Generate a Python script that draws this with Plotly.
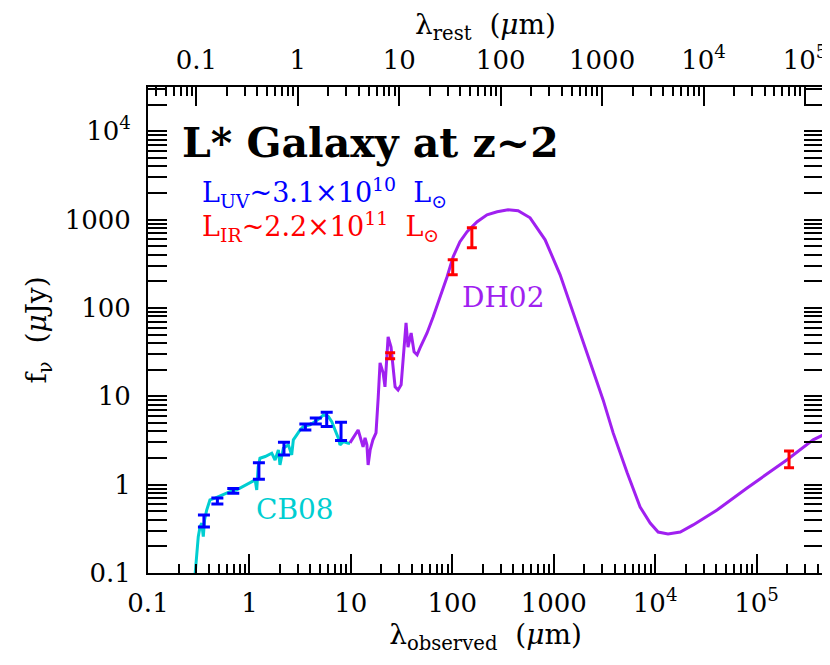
import numpy as np
import plotly.graph_objects as go

# redshift of the galaxy (rest-frame axis on top)
z = 2.0

# CB08 stellar population model (observed wavelength in micron, flux in uJy)
cb08_wave = [0.291, 0.302, 0.313, 0.326, 0.339, 0.351, 0.361, 0.379, 0.408, 0.458, 0.533,
             0.644, 0.750, 0.871, 1.01, 1.14, 1.18, 1.22, 1.27, 1.43, 1.66, 1.79, 1.93,
             2.00, 2.16, 2.42, 2.61, 2.71, 2.93, 3.16, 3.40, 3.96, 4.44, 4.97, 5.36, 6.00,
             6.48, 6.98, 7.53, 7.82, 8.43, 9.44, 9.8]
cb08_flux = [0.095, 0.182, 0.258, 0.334, 0.366, 0.258, 0.398, 0.516, 0.671, 0.702, 0.764,
             0.834, 0.871, 0.949, 1.04, 1.13, 0.871, 1.60, 1.99, 2.08, 2.27, 1.90, 2.47,
             1.67, 2.58, 2.82, 2.17, 3.21, 3.66, 4.16, 4.54, 4.74, 5.17, 5.65, 6.15, 5.89,
             5.17, 4.16, 3.35, 2.82, 3.07, 2.94, 2.94]

# DH02 dust model
dh02_wave = [9.8, 10.8, 11.8, 12.6, 13.2, 13.8, 14.4, 14.8, 15.5, 16.5, 17.7, 18.6, 19.4,
             20.8, 21.7, 23.3, 24.9, 27.3, 29.2, 31.3, 35.0, 36.6, 39.3, 42.0, 45.0, 48.1,
             56.4, 64.7, 75.9, 88.9, 102, 119, 140, 176, 220, 277, 355, 446, 585, 823,
             1157, 1626, 2286, 3070, 3855, 5300, 7110, 8930, 10700, 13400, 17700, 23700,
             40800, 80700, 200000, 361000, 497000]
dh02_flux = [2.97, 3.56, 4.16, 3.21, 2.67, 3.38, 2.82, 1.67, 2.47, 3.21, 3.85, 9.6, 23.9,
             18.4, 12.8, 47, 36, 12.8, 11.8, 13.5, 67.8, 36, 52, 31.8, 29.4, 35.3,
             52, 79, 134, 225, 379, 561, 728, 944, 1133, 1225, 1290, 1258, 1046, 590,
             237, 77, 24.5, 9.1, 3.85, 1.36, 0.558, 0.368, 0.291, 0.277, 0.291, 0.350,
             0.516, 0.918, 1.91, 3.21, 3.85]

# UV/optical/near-IR photometry
uv_wave = [0.356, 0.483, 0.693, 1.24, 2.19, 3.56, 4.51, 5.78, 8.0]
uv_flux = [0.388, 0.653, 0.849, 1.43, 2.56, 4.50, 5.26, 5.47, 4.0]
uv_lo = [0.332, 0.604, 0.797, 1.15, 2.17, 4.16, 4.87, 4.54, 3.15]
uv_hi = [0.454, 0.706, 0.906, 1.77, 3.02, 4.87, 5.69, 6.61, 5.09]

# far-IR / radio photometry
ir_wave = [24.4, 101, 156, 209000]
ir_flux = [28.7, 288, 622, 1.95]
ir_lo = [26.5, 237, 480, 1.55]
ir_hi = [31, 350, 807, 2.41]

# tick labels
x_ticks = [0.1, 1, 10, 100, 1000, 1e4, 1e5]
x_ticktext = ["0.1", "1", "10", "100", "1000", "10<sup>4</sup>", "10<sup>5</sup>"]
y_ticks = [0.1, 1, 10, 100, 1000, 1e4]
y_ticktext = ["0.1", "1", "10", "100", "1000", "10<sup>4</sup>"]

FONT = "DejaVu Serif"
PURPLE = "#A020F0"
CYAN = "#00CED1"

fig = go.Figure()

fig.add_trace(go.Scatter(x=cb08_wave, y=cb08_flux, mode="lines",
                         line=dict(color=CYAN, width=3)))
fig.add_trace(go.Scatter(x=dh02_wave, y=dh02_flux, mode="lines",
                         line=dict(color=PURPLE, width=3)))

uv_f = np.array(uv_flux)
fig.add_trace(go.Scatter(x=uv_wave, y=uv_flux, mode="markers",
                         marker=dict(size=2, color="blue"),
                         error_y=dict(type="data", symmetric=False,
                                      array=np.array(uv_hi) - uv_f,
                                      arrayminus=uv_f - np.array(uv_lo),
                                      color="blue", thickness=3, width=6)))
ir_f = np.array(ir_flux)
fig.add_trace(go.Scatter(x=ir_wave, y=ir_flux, mode="markers",
                         marker=dict(size=2, color="red"),
                         error_y=dict(type="data", symmetric=False,
                                      array=np.array(ir_hi) - ir_f,
                                      arrayminus=ir_f - np.array(ir_lo),
                                      color="red", thickness=3, width=5)))

# invisible trace so the rest-frame axis gets drawn
fig.add_trace(go.Scatter(x=[dh02_wave[0] / (1 + z), dh02_wave[-1] / (1 + z)],
                         y=[dh02_flux[0], dh02_flux[-1]], xaxis="x2",
                         mode="lines", line=dict(width=0), hoverinfo="skip"))

minor_x = [k * 10.0 ** n for n in range(-2, 7) for k in range(2, 10)]
minor_y = [k * 10.0 ** n for n in range(-2, 5) for k in range(2, 10)]

axis_style = dict(type="log", showgrid=False, zeroline=False, showline=True,
                  linecolor="black", linewidth=2, ticks="inside", ticklen=19,
                  tickwidth=1.5, tickcolor="black", automargin=False,
                  tickfont=dict(family=FONT, size=26, color="black"))
minor_style = dict(tickmode="array", ticks="inside", ticklen=9, tickwidth=1.5,
                   tickcolor="black")

# the page body adds an 8px offset, so the figure is 8px smaller than the window
x_range = [-1, 5.655]
fig.update_layout(
    width=822, height=657,
    margin=dict(l=140, r=7, t=79, b=92),
    paper_bgcolor="white", plot_bgcolor="white",
    showlegend=False,
    font=dict(family=FONT, color="black"),
    xaxis=dict(axis_style, range=x_range, tickmode="array", tickvals=x_ticks,
               ticktext=x_ticktext, ticklabelstandoff=6,
               minor=dict(minor_style, tickvals=minor_x),
               title=dict(text="λ<sub>observed</sub>\u00a0\u00a0(<i>μ</i>m)",
                          font=dict(family=FONT, size=28), standoff=4)),
    xaxis2=dict(axis_style, overlaying="x", side="top", anchor="y",
                range=[x_range[0] - np.log10(1 + z), x_range[1] - np.log10(1 + z)],
                tickmode="array", tickvals=x_ticks, ticktext=x_ticktext,
                ticklabelstandoff=6,
                minor=dict(minor_style, tickvals=minor_x),
                title=dict(text="λ<sub>rest</sub>\u00a0\u00a0(<i>μ</i>m)",
                           font=dict(family=FONT, size=28), standoff=4)),
    yaxis=dict(axis_style, range=[-1, 4.5], mirror="allticks", tickmode="array",
               tickvals=y_ticks, ticktext=y_ticktext, ticklabelstandoff=10,
               minor=dict(minor_style, tickvals=minor_y),
               title=dict(text="f<sub>ν</sub>\u00a0\u00a0(<i>μ</i>Jy)",
                          font=dict(family=FONT, size=28), standoff=10)),
)

# text labels
fig.add_annotation(x=0.047, y=0.885, xref="paper", yref="paper", xanchor="left",
                   yanchor="middle", showarrow=False,
                   text="<b>L* Galaxy at z~2</b>",
                   font=dict(family=FONT, size=41, color="black"))
fig.add_annotation(x=0.077, y=0.782, xref="paper", yref="paper", xanchor="left",
                   yanchor="middle", showarrow=False,
                   text="L<sub>UV</sub>~3.1×10<sup>10</sup>\u00a0\u00a0L<sub>⊙</sub>",
                   font=dict(family=FONT, size=27, color="blue"))
fig.add_annotation(x=0.077, y=0.712, xref="paper", yref="paper", xanchor="left",
                   yanchor="middle", showarrow=False,
                   text="L<sub>IR</sub>~2.2×10<sup>11</sup>\u00a0\u00a0L<sub>⊙</sub>",
                   font=dict(family=FONT, size=27, color="red"))
fig.add_annotation(x=0.526, y=0.566, xref="paper", yref="paper", xanchor="center",
                   yanchor="middle", showarrow=False,
                   text="DH02", font=dict(family=FONT, size=28, color=PURPLE))
fig.add_annotation(x=0.218, y=0.130, xref="paper", yref="paper", xanchor="center",
                   yanchor="middle", showarrow=False,
                   text="CB08", font=dict(family=FONT, size=28, color=CYAN))

fig.write_html("out.html")
